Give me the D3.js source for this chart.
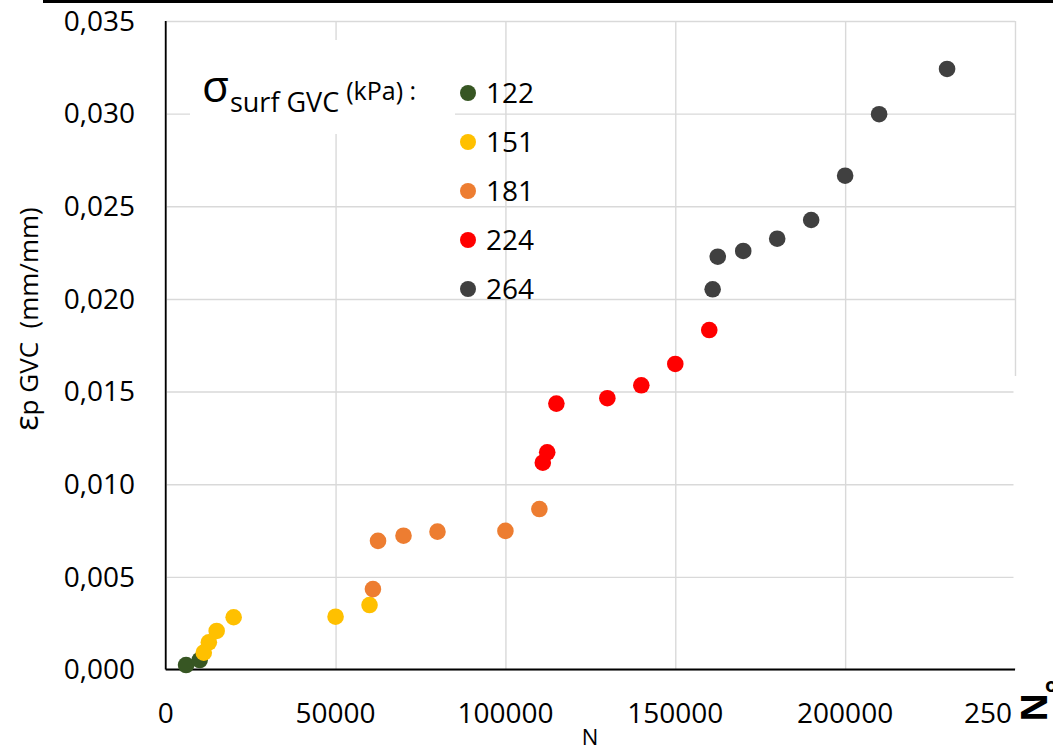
<!DOCTYPE html>
<html>
<head>
<meta charset="utf-8">
<script src="https://cdn.jsdelivr.net/npm/d3@7"></script>
<style>
  body { margin: 0; background: #fff; }
  text { font-family: "Open Sans", Lato, sans-serif; fill: #000; }
</style>
</head>
<body>
<div id="chart"></div>
<script>
// data
var series_names = ['122', '151', '181', '224', '264'];
var series_colors = ['#375623', '#ffc000', '#ed7d31', '#ff0000', '#404040'];

var n_122 = [6000, 10000];
var eps_122 = [0.00024, 0.00051];

var n_151 = [11200, 12700, 15000, 20000, 50000, 60000];
var eps_151 = [0.00091, 0.00147, 0.00208, 0.00282, 0.00285, 0.00348];

var n_181 = [61000, 62500, 70000, 80000, 100000, 110000];
var eps_181 = [0.00434, 0.00694, 0.00722, 0.00744, 0.00748, 0.00866];

var n_224 = [111000, 112300, 115000, 130000, 140000, 150000, 160000];
var eps_224 = [0.01116, 0.01172, 0.01435, 0.01464, 0.01534, 0.01649, 0.01832];

var n_264 = [161000, 162500, 170000, 180000, 190000, 200000, 210000, 230000];
var eps_264 = [0.02052, 0.02228, 0.02259, 0.02325, 0.02426, 0.02665, 0.02997, 0.03241];

var x_ticks = [0, 50000, 100000, 150000, 200000, 250000];
var x_tick_labels = ['0', '50000', '100000', '150000', '200000', '250'];
var y_ticks = [0, 0.005, 0.010, 0.015, 0.020, 0.025, 0.030, 0.035];

var all_n = [n_122, n_151, n_181, n_224, n_264];
var all_eps = [eps_122, eps_151, eps_181, eps_224, eps_264];

// build point list
var points = [];
series_names.forEach(function(name, i){
  all_n[i].forEach(function(n, j){
    points.push({ series: i, n: n, eps: all_eps[i][j] });
  });
});

var svg_width = 1053;
var svg_height = 749;
var plot_left = 165.7, plot_right = 1015, plot_top = 21, plot_bottom = 669.5;

var svg = d3.select('#chart')
  .append('svg')
  .attr('width', svg_width)
  .attr('height', svg_height);

svg.append('rect')
  .attr('width', svg_width)
  .attr('height', svg_height)
  .attr('fill', '#fff');

// stray black bar on top of the screenshot
svg.append('rect')
  .attr('x', 43).attr('y', 0)
  .attr('width', svg_width - 43).attr('height', 3)
  .attr('fill', '#000');

var x = d3.scaleLinear().domain([0, 250000]).range([plot_left, plot_right]);
var y = d3.scaleLinear().domain([0, 0.035]).range([plot_bottom, plot_top]);

var comma_locale = d3.formatLocale({ decimal: ',', thousands: '.', grouping: [3], currency: ['', ''] });
var y_fmt = comma_locale.format('.3f');

// gridlines
svg.append('g')
  .attr('transform', 'translate(0,' + plot_bottom + ')')
  .call(d3.axisBottom(x).tickValues(x_ticks).tickSize(-(plot_bottom - plot_top)).tickFormat(''))
  .call(function(g){
    g.select('.domain').remove();
    g.selectAll('line').attr('stroke', '#d9d9d9').attr('stroke-width', 1.4);
  });

svg.append('g')
  .attr('transform', 'translate(' + plot_left + ',0)')
  .call(d3.axisLeft(y).tickValues(y_ticks).tickSize(-(plot_right - plot_left)).tickFormat(''))
  .call(function(g){
    g.select('.domain').remove();
    g.selectAll('line').attr('stroke', '#d9d9d9').attr('stroke-width', 1.4);
  });

// white patch that hides the lower part of the right border
svg.append('rect')
  .attr('x', plot_right - 1.5).attr('y', 376)
  .attr('width', svg_width - plot_right + 2).attr('height', plot_bottom - 376 - 1)
  .attr('fill', '#fff');

// white box behind legend title
svg.append('rect')
  .attr('x', 190).attr('y', 40)
  .attr('width', 265).attr('height', 94)
  .attr('fill', '#fff');

// tick labels
svg.append('g')
  .selectAll('text')
  .data(y_ticks)
  .enter()
  .append('text')
  .attr('x', 135)
  .attr('y', function(d){ return y(d); })
  .attr('dy', '0.35em')
  .attr('text-anchor', 'end')
  .attr('font-size', 28)
  .text(function(d){ return y_fmt(d); });

svg.append('g')
  .selectAll('text')
  .data(x_ticks)
  .enter()
  .append('text')
  .attr('x', function(d){ return d === 250000 ? x(d) - 3 : x(d); })
  .attr('y', 723)
  .attr('text-anchor', function(d){ return d === 250000 ? 'end' : 'middle'; })
  .attr('font-size', 28)
  .text(function(d, i){ return x_tick_labels[i]; });

// axis lines
svg.append('line')
  .attr('x1', plot_left).attr('x2', plot_left)
  .attr('y1', plot_top).attr('y2', plot_bottom)
  .attr('stroke', '#000').attr('stroke-width', 1.8);
svg.append('line')
  .attr('x1', plot_left).attr('x2', plot_right)
  .attr('y1', plot_bottom).attr('y2', plot_bottom)
  .attr('stroke', '#000').attr('stroke-width', 1.8);

// points
svg.append('g')
  .selectAll('circle')
  .data(points)
  .enter()
  .append('circle')
  .attr('cx', function(d){ return x(d.n); })
  .attr('cy', function(d){ return y(d.eps); })
  .attr('r', 8.3)
  .attr('fill', function(d){ return series_colors[d.series]; });

// legend
var title = svg.append('text')
  .attr('x', 202)
  .attr('y', 102);
title.append('tspan').attr('font-size', 44).text('σ');
title.append('tspan').attr('font-size', 27).attr('dx', 1).attr('dy', 10).text('surf GVC');
title.append('tspan').attr('font-size', 25).attr('dx', 7).attr('dy', -12).text('(kPa) :');

var legend = svg.append('g')
  .selectAll('g')
  .data(series_names)
  .enter()
  .append('g')
  .attr('transform', function(d, i){ return 'translate(468,' + (93 + i * 49) + ')'; });

legend.append('circle')
  .attr('r', 8)
  .attr('fill', function(d, i){ return series_colors[i]; });

legend.append('text')
  .attr('x', 18)
  .attr('dy', '0.36em')
  .attr('font-size', 28)
  .text(function(d){ return d; });

// axis titles
svg.append('text')
  .attr('transform', 'translate(38,319) rotate(-90)')
  .attr('text-anchor', 'middle')
  .attr('font-size', 26)
  .attr('xml:space', 'preserve')
  .html('<tspan font-size="32">ε</tspan>p GVC  (mm/mm)');

svg.append('text')
  .attr('x', 590)
  .attr('y', 745)
  .attr('text-anchor', 'middle')
  .attr('font-size', 22)
  .text('N');

// cut-off rotated label at the bottom right
svg.append('text')
  .attr('transform', 'translate(1047,722) rotate(-90)')
  .attr('font-size', 36)
  .attr('font-weight', 'bold')
  .attr('font-family', '"DejaVu Sans", sans-serif')
  .text('N');
svg.append('text')
  .attr('x', 1045)
  .attr('y', 692)
  .attr('font-size', 20)
  .attr('font-weight', 'bold')
  .text('o');
</script>
</body>
</html>
